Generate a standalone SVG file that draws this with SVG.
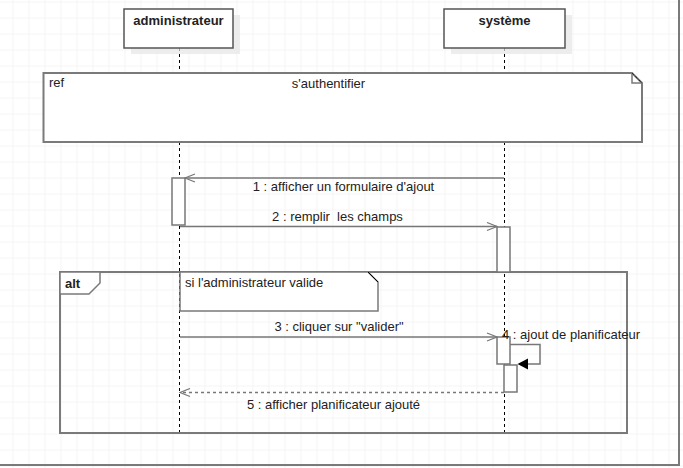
<svg xmlns="http://www.w3.org/2000/svg" width="683" height="468" viewBox="0 0 683 468">
<defs>
<pattern id="grid" x="12.5" y="1.5" width="16" height="16" patternUnits="userSpaceOnUse">
<path d="M0,0 H16 M0,0 V16" fill="none" stroke="#ececec" stroke-width="1"/>
</pattern>
<marker id="open" markerUnits="userSpaceOnUse" markerWidth="12" markerHeight="10" viewBox="0 0 12 10" refX="11" refY="5" orient="auto">
<path d="M1,1 L11,5 L1,9" fill="none" stroke="#777" stroke-width="1.2"/>
</marker>
</defs>
<style>
text{font-family:"Liberation Sans",Arial,sans-serif;font-size:13px;fill:#222}
.b{font-weight:bold}
.frame{fill:none;stroke:#7a7a7a;stroke-width:2}
.hdr{fill:#fff;stroke:#555;stroke-width:1.5}
.shadow{fill:#e6e6e6;opacity:0.7}
.life{stroke:#000;stroke-width:1;stroke-dasharray:3,3;fill:none}
.act{fill:#fff;stroke:#777;stroke-width:1.5}
.msg{stroke:#777;stroke-width:1.5;fill:none}
.ret{stroke:#777;stroke-width:1.5;fill:none;stroke-dasharray:3,3}
</style>
<rect width="683" height="468" fill="#fff"/>
<rect width="683" height="468" fill="url(#grid)"/>
<path d="M0,465 H679 V0" class="frame"/>

<g id="lifelines">
<path d="M179.5,48 V73 M179.5,142 V432" class="life"/>
<path d="M504.5,48 V73 M504.5,142 V432" class="life"/>
</g>

<g id="administrateur">
<rect x="131" y="15" width="109" height="39" class="shadow"/>
<rect x="124" y="9" width="109" height="39" class="hdr"/>
<text x="178.5" y="25" text-anchor="middle" class="b">administrateur</text>
</g>
<g id="systeme">
<rect x="451" y="15" width="121" height="39" class="shadow"/>
<rect x="444" y="9" width="121" height="39" class="hdr"/>
<text x="504.5" y="25" text-anchor="middle" class="b">système</text>
</g>

<g id="ref-sauthentifier">
<path d="M43.5,73 H632 L642,83 V142 H43.5 Z" fill="#fff" stroke="#7a7a7a" stroke-width="2"/>
<path d="M632,73 V83 H642" fill="none" stroke="#7a7a7a" stroke-width="1.5"/>
<path d="M632,73 L642,83" fill="none" stroke="#000" stroke-width="1" stroke-dasharray="1,1"/>
<text x="49" y="87">ref</text>
<text x="328.5" y="88" text-anchor="middle">s'authentifier</text>
</g>

<g id="alt">
<rect x="60" y="272" width="567" height="161" class="frame"/>
<path d="M60,272 H100 V283 L89,294 H60 Z" fill="#fff" stroke="#7a7a7a" stroke-width="1.5"/>
<text x="65" y="288" class="b">alt</text>
</g>

<g id="note-condition">
<path d="M180,272 H368 L378,282 V311 H180 Z" fill="#fff" stroke="#7a7a7a" stroke-width="1.5"/>
<path d="M368,272 L378,282" fill="none" stroke="#000" stroke-width="1"/>
<text x="185" y="287">si l'administrateur valide</text>
</g>

<g id="activations">
<rect x="172" y="178" width="13" height="47" class="act"/>
<rect x="497" y="227" width="13" height="45" class="act"/>
<rect x="497" y="337" width="13" height="27" class="act"/>
<rect x="504" y="365" width="13" height="27" class="act"/>
</g>

<g id="connectors">
<line x1="504" y1="178" x2="185" y2="178" class="msg" marker-end="url(#open)"/>
<text x="343.5" y="191" text-anchor="middle">1 : afficher un formulaire d'ajout</text>
<line x1="180" y1="226.5" x2="497" y2="226.5" class="msg" marker-end="url(#open)"/>
<text x="337.5" y="221" text-anchor="middle" xml:space="preserve">2 : remplir  les champs</text>
<line x1="180" y1="337" x2="497" y2="337" class="msg" marker-end="url(#open)"/>
<text x="339" y="331" text-anchor="middle">3 : cliquer sur "valider"</text>
<path d="M510,344.5 H540 V364 H527" class="msg"/>
<polygon points="517.5,364 528,358.5 528,369.5" fill="#000"/>
<text x="502" y="339">4 : ajout de planificateur</text>
<line x1="504" y1="392.5" x2="180" y2="392.5" class="ret" marker-end="url(#open)"/>
<text x="333.5" y="409" text-anchor="middle">5 : afficher planificateur ajouté</text>
</g>
</svg>
